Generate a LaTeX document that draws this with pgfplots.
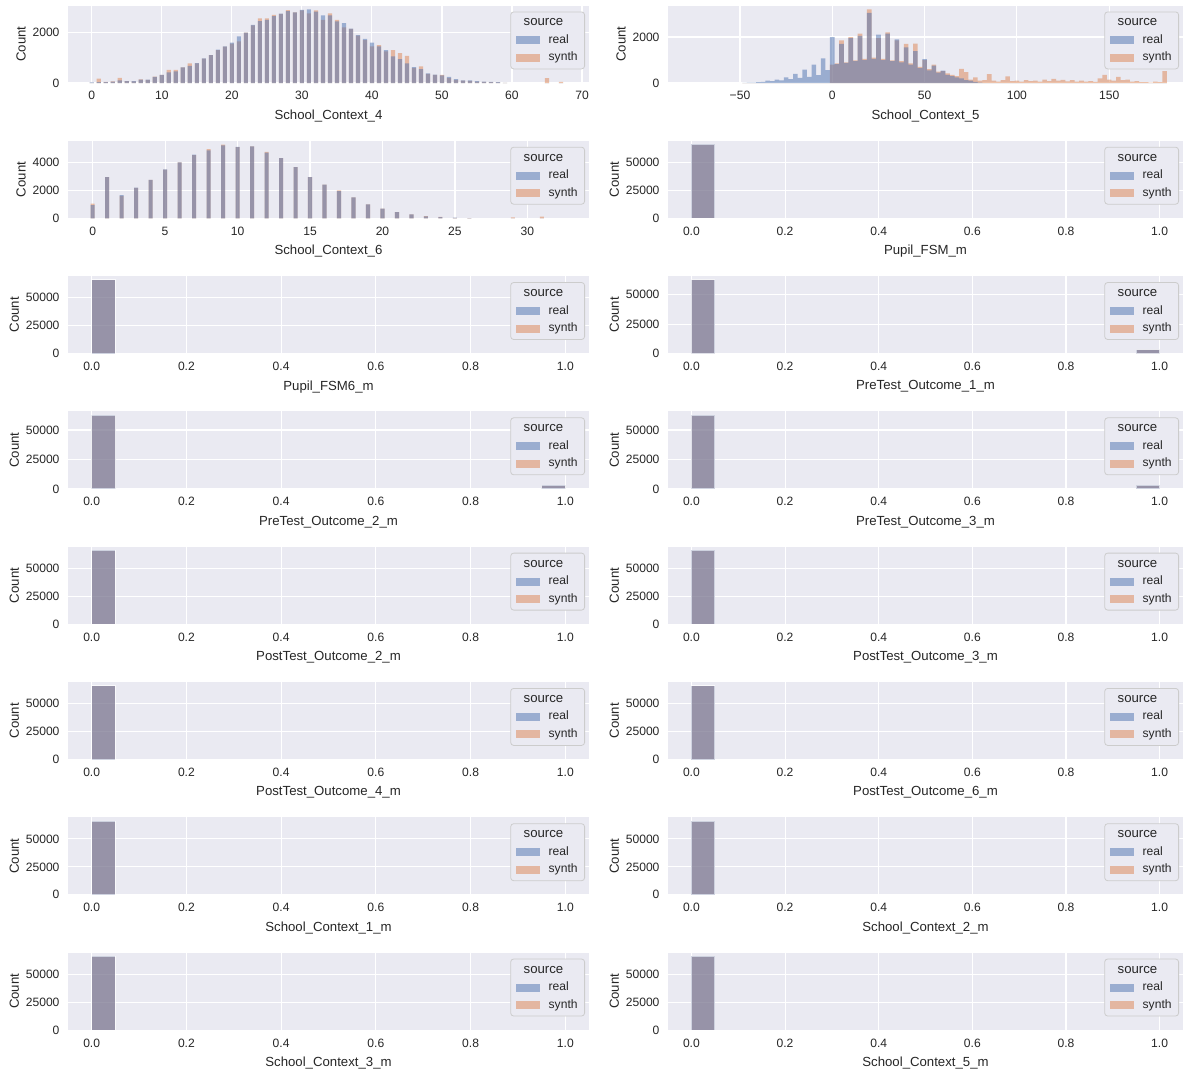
\documentclass[border=0pt]{standalone}
\usepackage{fontspec}
\setmainfont{Liberation Sans}
\usepackage{pgfplots}
\usepackage{pgfplotstable}
\pgfplotsset{compat=1.18}
\definecolor{bgc}{HTML}{EAEAF2}
\definecolor{txt}{HTML}{262626}
\definecolor{legc}{HTML}{CCCCCC}
\definecolor{sbblue}{HTML}{4C72B0}
\definecolor{sborange}{HTML}{DD8452}

\pgfplotstableread{
x real synth
0 20 10
1 30 170
2 30 40
3 50 60
4 100 200
5 70 70
6 70 60
7 130 140
8 130 120
9 240 250
10 320 320
11 420 520
12 460 520
13 620 620
14 680 780
15 790 780
16 980 970
17 1100 1100
18 1320 1300
19 1450 1440
20 1600 1560
21 1850 1650
22 2000 2000
23 2300 2280
24 2450 2560
25 2500 2560
26 2650 2700
27 2750 2740
28 2850 2890
29 2800 2800
30 2900 2880
31 2920 2760
32 2830 2880
33 2680 2500
34 2680 2760
35 2440 2500
36 2370 2200
37 2150 2140
38 1900 1880
39 1750 1700
40 1600 1450
41 1450 1500
42 1300 1250
43 1050 1300
44 950 1180
45 780 1070
46 630 600
47 550 660
48 380 360
49 330 320
50 300 320
51 240 200
52 150 120
53 100 90
54 100 80
55 70 50
56 50 40
57 40 30
58 30 20
59 10 5
65 0 190
67 0 40
}\tabA

\pgfplotstableread{
x real synth
-47.5 10 0
-45 15 0
-42.5 20 0
-40 40 0
-37.5 45 0
-35 100 0
-32.5 80 0
-30 150 0
-27.5 110 0
-25 250 0
-22.5 170 0
-20 400 0
-17.5 220 0
-15 580 0
-12.5 270 0
-10 800 0
-7.5 340 0
-5 1070 0
-2.5 560 0
0 2000 800
2.5 820 850
5 1700 1850
7.5 880 900
10 1950 2000
12.5 950 980
15 2050 2150
17.5 1000 1050
20 3050 3200
22.5 1050 1100
25 2100 1950
27.5 1000 1050
30 2150 2200
32.5 950 980
35 1900 1850
37.5 900 950
40 1550 1700
42.5 800 850
45 1390 1710
47.5 650 700
50 1040 1000
52.5 550 600
55 760 800
57.5 450 500
60 540 520
62.5 350 420
65 300 350
67.5 250 300
70 200 610
72.5 120 470
75 100 150
77.5 50 240
80 20 100
82.5 0 130
85 0 390
87.5 0 100
90 0 60
92.5 0 130
95 0 290
97.5 0 80
100 0 100
102.5 0 60
105 0 120
107.5 0 80
110 0 100
112.5 0 60
115 0 150
117.5 0 80
120 0 180
122.5 0 100
125 0 140
127.5 0 70
130 0 120
132.5 0 60
135 0 100
137.5 0 60
140 0 80
142.5 0 50
145 0 200
147.5 0 350
150 0 150
152.5 0 100
155 0 270
157.5 0 130
160 0 150
162.5 0 60
165 0 80
167.5 0 40
170 0 40
172.5 0 20
175 0 60
177.5 0 40
180 0 520
}\tabB

\pgfplotstableread{
x real synth
0 950 1050
1 2950 2950
2 1650 1600
3 2200 2180
4 2750 2750
5 3500 3480
6 4000 4000
7 4550 4520
8 4850 4950
9 5220 5270
10 5100 5080
11 5150 5150
12 4700 4750
13 4300 4300
14 3650 3650
15 2950 2950
16 2400 2400
17 1950 2000
18 1500 1500
19 1000 1000
20 700 700
21 450 450
22 280 280
23 130 150
24 90 100
25 40 30
26 20 10
29 0 60
31 0 120
}\tabC

\pgfplotsset{
  sb/.style={
    scale only axis, height=77.5pt, anchor=south west,
    axis background/.style={fill=bgc},
    axis line style={draw=none},
    grid=major, major grid style={white, line width=1.1pt},
    tick style={draw=none},
    ticklabel style={font=\fontsize{12.1}{14}\selectfont, text=txt},
    xticklabel style={yshift=-5pt},
    yticklabel style={xshift=-5pt},
    label style={font=\fontsize{13.2}{15}\selectfont, text=txt},
    xlabel style={yshift=-3pt},
    ylabel={Count},
    ymin=0, enlargelimits=false, scaled ticks=false,
    /pgf/number format/1000 sep={},
    /pgf/number format/assume math mode=true,
    legend cell align=left,
    legend style={at={(1,1)}, anchor=north east, xshift=-4pt, yshift=-6pt,
      draw=legc, fill=bgc, rounded corners=3pt, line width=0.8pt,
      font=\fontsize{12.1}{14}\selectfont, text=txt,
      inner xsep=5pt, inner ysep=3pt, row sep=1.5pt,
      nodes={inner sep=2pt, text height=9pt, text depth=3pt},
      /tikz/every odd column/.append style={column sep=7pt}},
  },
  Lc/.style={sb, width=521pt},
  Rc/.style={sb, width=515pt},
  realleg/.style={legend image code/.code={\path[draw=none, fill=sbblue, fill opacity=0.5, rounded corners=0pt] (0pt,-4pt) rectangle (24pt,4pt);}},
  synthleg/.style={legend image code/.code={\path[draw=none, fill=sborange, fill opacity=0.5, rounded corners=0pt] (0pt,-4pt) rectangle (24pt,4pt);}},
  realh/.style={ybar, bar shift=0pt, fill=sbblue, fill opacity=0.5, draw=none},
  synthh/.style={ybar, bar shift=0pt, fill=sborange, fill opacity=0.5, draw=none},
  realb/.style={ybar, bar shift=0pt, bar width=0.05, fill=sbblue, fill opacity=0.5, draw=white, draw opacity=0.5, line width=0.9pt},
  synthb/.style={ybar, bar shift=0pt, bar width=0.05, fill=sborange, fill opacity=0.5, draw=white, draw opacity=0.5, line width=0.9pt},
  binx/.style={xmin=-0.05, xmax=1.05, xtick={0,0.2,0.4,0.6,0.8,1.0},
    xticklabels={0.0,0.2,0.4,0.6,0.8,1.0}, ytick={0,25000,50000}},
}

\newcommand{\leg}{%
\addlegendimage{empty legend}\addlegendentry{\hspace*{-25pt}\fontsize{13.2}{15}\selectfont source}
\addlegendimage{realleg}\addlegendentry{real}
\addlegendimage{synthleg}\addlegendentry{synth}}

% #1 column style, #2 x, #3 y, #4 label, #5 ymax, #6 coordinates
\newcommand{\binplot}[6]{%
\begin{axis}[#1, at={(#2pt,-#3pt)}, binx, xlabel={#4}, ymax=#5]
\leg
\addplot[synthb, forget plot] coordinates {#6};
\addplot[realb, forget plot] coordinates {#6};
\end{axis}}

\begin{document}
\begin{tikzpicture}
\path[use as bounding box] (0,0) rectangle (1193pt,-1074pt);
\fill[white] (0,0) rectangle (1193pt,-1074pt);

% Row 1
\begin{axis}[Lc, at={(68pt,-83pt)}, xmin=-3.4, xmax=71, ymax=3070,
  xtick={0,10,...,70}, ytick={0,2000}, xlabel={School\_Context\_4}]
\leg
\addplot[synthh, bar width=0.6, forget plot] table[x=x, y=synth] {\tabA};
\addplot[realh, bar width=0.6, forget plot] table[x=x, y=real] {\tabA};
\end{axis}
\begin{axis}[Rc, at={(668pt,-83pt)}, xmin=-89, xmax=190, ymax=3370,
  xtick={-50,0,50,100,150}, xticklabels={−50,0,50,100,150}, ytick={0,2000}, xlabel={School\_Context\_5}]
\leg
\addplot[synthh, bar width=2.5, forget plot] table[x=x, y=synth] {\tabB};
\addplot[realh, bar width=2.5, forget plot] table[x=x, y=real] {\tabB};
\end{axis}

% Row 2
\begin{axis}[Lc, at={(68pt,-218.3pt)}, xmin=-1.7, xmax=34.25, ymax=5540,
  xtick={0,5,...,30}, ytick={0,2000,4000}, xlabel={School\_Context\_6}]
\leg
\addplot[synthh, bar width=0.28, forget plot] table[x=x, y=synth] {\tabC};
\addplot[realh, bar width=0.28, forget plot] table[x=x, y=real] {\tabC};
\end{axis}
\binplot{Rc}{668}{218.3}{Pupil\_FSM\_m}{69300}{(0.025,66000)}

% Row 3
\binplot{Lc}{68}{353.6}{Pupil\_FSM6\_m}{69300}{(0.025,66000)}
\binplot{Rc}{668}{353.6}{PreTest\_Outcome\_1\_m}{65835}{(0.025,62700) (0.975,3300)}

% Row 4
\binplot{Lc}{68}{488.9}{PreTest\_Outcome\_2\_m}{65835}{(0.025,62700) (0.975,3300)}
\binplot{Rc}{668}{488.9}{PreTest\_Outcome\_3\_m}{65835}{(0.025,62700) (0.975,3300)}

% Row 5
\binplot{Lc}{68}{624.2}{PostTest\_Outcome\_2\_m}{69300}{(0.025,66000)}
\binplot{Rc}{668}{624.2}{PostTest\_Outcome\_3\_m}{69300}{(0.025,66000)}

% Row 6
\binplot{Lc}{68}{759.5}{PostTest\_Outcome\_4\_m}{69300}{(0.025,66000)}
\binplot{Rc}{668}{759.5}{PostTest\_Outcome\_6\_m}{69300}{(0.025,66000)}

% Row 7
\binplot{Lc}{68}{894.8}{School\_Context\_1\_m}{69300}{(0.025,66000)}
\binplot{Rc}{668}{894.8}{School\_Context\_2\_m}{69300}{(0.025,66000)}

% Row 8
\binplot{Lc}{68}{1030.1}{School\_Context\_3\_m}{69300}{(0.025,66000)}
\binplot{Rc}{668}{1030.1}{School\_Context\_5\_m}{69300}{(0.025,66000)}
\end{tikzpicture}
\end{document}
